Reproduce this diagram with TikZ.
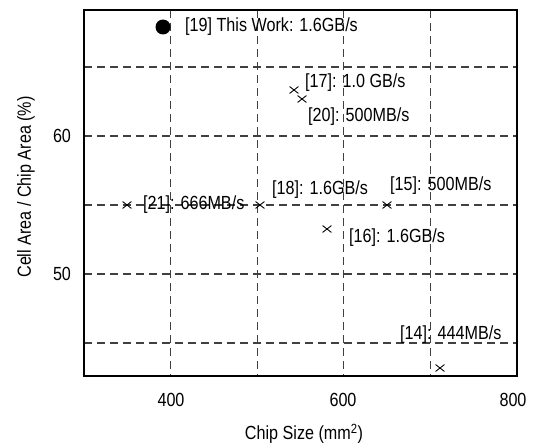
\documentclass[tikz,border=0pt]{standalone}
\usepackage{fontspec}
\setmainfont{Liberation Sans}[FakeStretch=0.85]
\usetikzlibrary{shapes.misc}
\begin{document}
\begin{tikzpicture}[x=1pt,y=-1pt,
  gridline/.style={draw=black!75, line width=1.2pt, dash pattern=on 8pt off 5pt},
  frame/.style={draw=black, line width=2.4pt},
  mk/.style={cross out, draw=black, line width=0.9pt, minimum width=8pt, minimum height=6pt, inner sep=0pt},
  dot/.style={circle, fill=black, minimum size=15pt, inner sep=0pt},
  lbl/.style={anchor=west, inner sep=0pt, font=\fontsize{19}{22}\selectfont},
  ticklbl/.style={inner sep=0pt, font=\fontsize{19}{22}\selectfont}]
\useasboundingbox (0,0) rectangle (534,444);
% grid
\foreach \gx in {170.6,257.2,343.8,430.4} \draw[gridline] (\gx,10) -- (\gx,376);
\foreach \gy in {67,136,205,274,343} \draw[gridline] (84,\gy) -- (517,\gy);
% frame
\draw[frame] (84,10) rectangle (517,376);
% tick labels
\node[ticklbl] (t60) at (62,136) {60};
\node[ticklbl] (t50) at (62,274) {50};
\node[ticklbl] (t400) at (171,400) {400};
\node[ticklbl] (t600) at (343,400) {600};
\node[ticklbl] (t800) at (513,400) {800};
% axis labels
\node[ticklbl] (xlab) at (304,434) {Chip Size (mm\textsuperscript{2})};
\node[ticklbl, rotate=90] (ylab) at (26,187) {Cell Area / Chip Area (\%)};
% data
\node[dot] (p19) at (163,27) {};
\node[lbl] (l19) at (185,27) {[19] This Work: 1.6GB/s};
\node[mk] (p17) at (294,90) {};
\node[lbl] (l17) at (305,83) {[17]: 1.0 GB/s};
\node[mk] (p20) at (302,99) {};
\node[lbl] (l20) at (308,117) {[20]: 500MB/s};
\node[mk] (p21) at (127,205) {};
\node[lbl] (l21) at (143,205) {[21]: 666MB/s};
\node[mk] (p18) at (260,205) {};
\node[lbl] (l18) at (272,190) {[18]: 1.6GB/s};
\node[mk] (p15) at (387,205) {};
\node[lbl] (l15) at (390,186) {[15]: 500MB/s};
\node[mk] (p16) at (327,229) {};
\node[lbl] (l16) at (349,238) {[16]: 1.6GB/s};
\node[mk] (p14) at (440,368) {};
\node[lbl] (l14) at (400,335) {[14]: 444MB/s};
\end{tikzpicture}
\end{document}
